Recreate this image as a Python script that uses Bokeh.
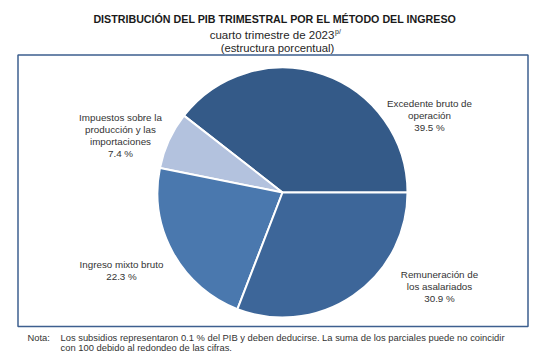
from bokeh.plotting import figure
from bokeh.models import Range1d, ColumnDataSource
from bokeh.transform import cumsum
from bokeh.core.properties import value
from bokeh.embed import file_html
from bokeh.resources import INLINE
import math

# ---- data ----
categories = ["Excedente bruto de operación", "Impuestos sobre la producción y las importaciones",
              "Ingreso mixto bruto", "Remuneración de los asalariados"]
shares = [39.5, 7.4, 22.3, 30.9]
colors = ["#345a88", "#b3c2de", "#4a78ae", "#3d6699"]
title_text = "DISTRIBUCIÓN DEL PIB TRIMESTRAL POR EL MÉTODO DEL INGRESO"
subtitle_text = "cuarto trimestre de 2023"
subtitle_sup = "p/"
subtitle2_text = "(estructura porcentual)"
label_lines = [["Excedente bruto de", "operación"],
               ["Impuestos sobre la", "producción y las", "importaciones"],
               ["Ingreso mixto bruto"],
               ["Remuneración de", "los asalariados"]]
note_head = "Nota:"
note_line1 = "Los subsidios representaron 0.1 % del PIB y deben deducirse. La suma de los parciales puede no coincidir"
note_line2 = "con 100 debido al redondeo de las cifras."

# ---- layout ----
W, H = 539, 351
def Y(py):
    return H - py

FONT = value("Liberation Sans")
cx, cy, R = 282, 192, 125
label_pos = [(429, 103), (120, 117), (121, 264), (439, 274)]
LH = 12

p = figure(width=W, height=H, x_range=Range1d(0, W), y_range=Range1d(0, H),
           output_backend="svg", toolbar_location=None, min_border=0,
           x_axis_type=None, y_axis_type=None, outline_line_color=None,
           background_fill_color="white", border_fill_color="white")
p.grid.visible = False

# frame
p.quad(left=[17.5], right=[527.5], top=[Y(54.5)], bottom=[Y(326)],
       fill_color=None, line_color="#3d5f8f", line_width=1.5)

total = sum(shares)
src = ColumnDataSource(dict(cat=categories, share=shares, color=colors,
                            angle=[s / total * 2 * math.pi for s in shares]))
p.wedge(x=cx, y=Y(cy), radius=R, start_angle=cumsum("angle", include_zero=True),
        end_angle=cumsum("angle"), fill_color="color", line_color="white",
        line_width=2, source=src)

# titles
p.text(x=[274.5], y=[Y(18.5)], text=[title_text], text_font=FONT, text_font_size="10.7px",
       text_font_style="bold", text_align="center", text_baseline="middle", text_color="#1a1a1a")
p.text(x=[271.5], y=[Y(34)], text=[subtitle_text], text_font=FONT, text_font_size="11.5px",
       text_align="center", text_baseline="middle", text_color="#262626")
p.text(x=[334.5], y=[Y(31)], text=[subtitle_sup], text_font=FONT, text_font_size="7px",
       text_align="left", text_baseline="middle", text_color="#262626")
p.text(x=[277], y=[Y(47)], text=[subtitle2_text], text_font=FONT, text_font_size="11.3px",
       text_align="center", text_baseline="middle", text_color="#262626")

# slice labels
xs, ys, ts = [], [], []
for (lx, ly), lines, s in zip(label_pos, label_lines, shares):
    allines = lines + [f"{s:.1f} %"]
    for i, t in enumerate(allines):
        xs.append(lx)
        ys.append(Y(ly + i * LH))
        ts.append(t)
p.text(x=xs, y=ys, text=ts, text_font=FONT, text_font_size="9.8px", text_align="center",
       text_baseline="middle", text_color="#333333")

# note
p.text(x=[27], y=[Y(336.5)], text=[note_head], text_font=FONT, text_font_size="9.4px",
       text_align="left", text_baseline="middle", text_color="#333333")
p.text(x=[60, 60], y=[Y(336.5), Y(346.5)], text=[note_line1, note_line2], text_font=FONT,
       text_font_size="9.4px", text_align="left", text_baseline="middle", text_color="#333333")

open("out.html", "w").write(file_html(p, INLINE))
